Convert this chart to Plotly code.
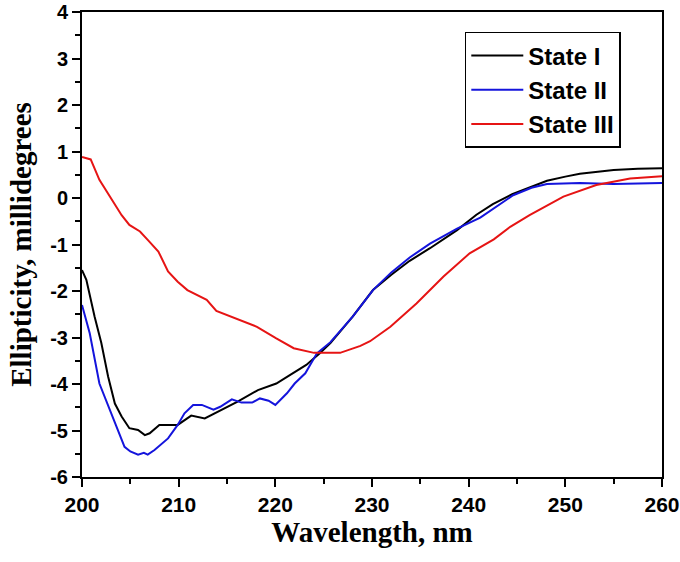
import plotly.graph_objects as go

# State I
x_s1 = [200, 200.45, 201.3, 202.0, 202.7, 203.4, 204.1, 204.9, 205.8, 206.5, 207.0, 208.0, 209.9,
        211.3, 212.7, 214.4, 216.1, 218.2, 220.1, 221.5, 223.2, 224.6, 225.7, 228, 230.1, 232,
        233.9, 236, 238.8, 240.8, 242.5, 244.5, 246.5, 248.1, 250, 251.5, 255, 257.5, 260]
y_s1 = [-1.55, -1.76, -2.55, -3.12, -3.84, -4.42, -4.70, -4.95, -4.99, -5.10, -5.06, -4.88, -4.88,
        -4.68, -4.74, -4.56, -4.38, -4.13, -3.99, -3.81, -3.59, -3.34, -3.12, -2.55, -1.98, -1.65,
        -1.35, -1.08, -0.69, -0.36, -0.13, 0.08, 0.25, 0.37, 0.46, 0.52, 0.60, 0.63, 0.64]

# State II
x_s2 = [200, 200.8, 201.8, 203.0, 204.4, 205.0, 205.8, 206.4, 206.8, 207.5, 208.9, 209.9, 210.6,
        211.5, 212.4, 213.6, 214.3, 215.5, 216.5, 217.6, 218.4, 219.3, 220.0, 221.2, 222.0, 223.1,
        224.3, 225.7, 228, 230.1, 232, 233.9, 236, 238.8, 241.2, 244.6, 246.5, 248.1, 250, 251.5,
        255, 260]
y_s2 = [-2.30, -2.91, -3.99, -4.63, -5.35, -5.45, -5.52, -5.48, -5.52, -5.42, -5.17, -4.88, -4.63,
        -4.45, -4.45, -4.55, -4.49, -4.33, -4.40, -4.40, -4.31, -4.36, -4.45, -4.20, -3.99, -3.77,
        -3.34, -3.10, -2.55, -1.98, -1.60, -1.28, -0.98, -0.66, -0.42, 0.06, 0.22, 0.30, 0.32, 0.32,
        0.30, 0.32]

# State III
x_s3 = [200, 200.9, 201.8, 203.0, 204.1, 204.9, 206.0, 206.8, 207.9, 208.9, 209.9, 210.9, 212.9,
        213.9, 216, 218.1, 220.1, 221.9, 224.0, 226.7, 228.8, 229.8, 231.9, 234.6, 237.4, 240.1,
        242.6, 244.3, 246.3, 249.8, 253.2, 256.7, 260]
y_s3 = [0.88, 0.83, 0.39, -0.01, -0.37, -0.58, -0.72, -0.90, -1.15, -1.58, -1.80, -1.98, -2.19,
        -2.43, -2.60, -2.77, -3.02, -3.23, -3.33, -3.33, -3.18, -3.08, -2.77, -2.27, -1.69, -1.19,
        -0.89, -0.62, -0.37, 0.03, 0.28, 0.42, 0.47]

x_ticks = [200, 210, 220, 230, 240, 250, 260]
y_ticks = [-6, -5, -4, -3, -2, -1, 0, 1, 2, 3, 4]

fig = go.Figure()
for xs, ys, name, col in [(x_s1, y_s1, "State I", "#000000"),
                          (x_s2, y_s2, "State II", "#1414dc"),
                          (x_s3, y_s3, "State III", "#e61414")]:
    fig.add_trace(go.Scatter(x=xs, y=ys, mode="lines", name=name,
                             line=dict(color=col, width=2)))

sans = "Liberation Sans, Arial, sans-serif"
serif = "Liberation Serif, Times New Roman, serif"
xtickfont = dict(family=sans, size=21, color="black", weight="bold")
ytickfont = dict(family=sans, size=20, color="black", weight="bold")
titlefont = dict(family=serif, size=29, color="black", weight="bold")

fig.update_layout(
    width=680, height=562,
    margin=dict(l=82, r=18, t=12, b=85),
    plot_bgcolor="white", paper_bgcolor="white",
    showlegend=True,
    legend=dict(x=0.66, y=0.957, xanchor="left", yanchor="top",
                bordercolor="black", borderwidth=1.5, bgcolor="white",
                font=dict(family=sans, size=24, color="black", weight="bold"),
                itemwidth=52, tracegroupgap=0),
)
fig.update_xaxes(range=[200, 260], tickvals=x_ticks, ticktext=[str(v) for v in x_ticks],
                 ticks="outside", ticklen=8, tickwidth=2, tickcolor="black",
                 minor=dict(dtick=5, tick0=200, ticks="outside", ticklen=5, tickwidth=2, tickcolor="black"),
                 showline=True, linecolor="black", linewidth=2, mirror=True,
                 showgrid=False, zeroline=False, tickfont=xtickfont, automargin=False,
                 ticklabeloverflow="allow",
                 title=dict(text="Wavelength, nm", font=titlefont, standoff=0))
fig.update_yaxes(range=[-6, 4], tickvals=y_ticks, ticktext=[str(v) for v in y_ticks],
                 ticks="outside", ticklen=8, tickwidth=2, tickcolor="black",
                 minor=dict(dtick=0.5, tick0=0, ticks="outside", ticklen=5, tickwidth=2, tickcolor="black"),
                 showline=True, linecolor="black", linewidth=2, mirror=True,
                 showgrid=False, zeroline=False, tickfont=ytickfont, automargin=False,
                 ticklabeloverflow="allow",
                 title=dict(text="Ellipticity, millidegrees", font=titlefont, standoff=10))

fig.write_html("out.html", config={"displayModeBar": False},
               post_script="document.body.style.margin='0px';")
